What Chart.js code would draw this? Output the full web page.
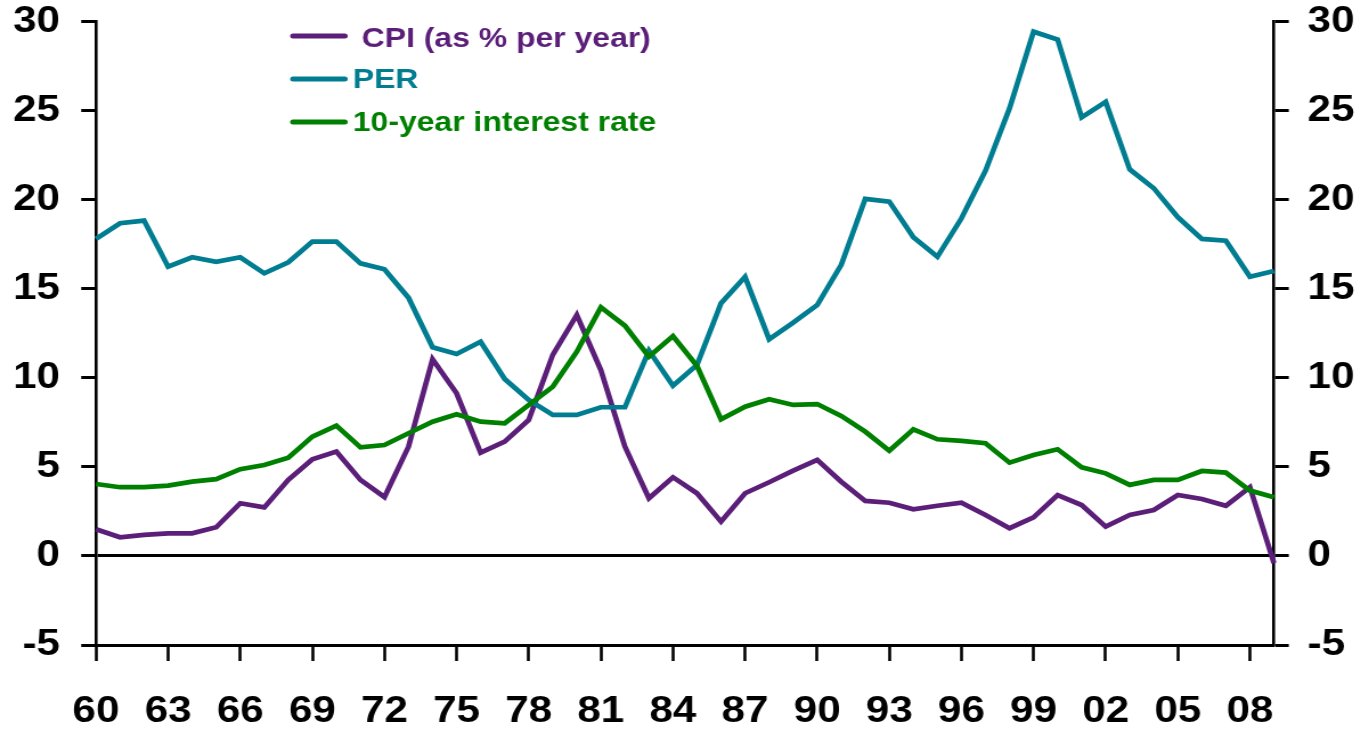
<!DOCTYPE html>
<html>
<head>
<meta charset="utf-8">
<title>CPI, PER and 10-year interest rate</title>
<script src="https://cdn.jsdelivr.net/npm/chart.js@4.4.1/dist/chart.umd.min.js"></script>
<style>
  html, body { margin: 0; padding: 0; background: #ffffff; overflow: hidden; }
  #wrap { width: 1361px; height: 732px; overflow: hidden; }
  /* the chart is drawn narrower and widened, giving the broad lettering */
  #chart { transform: scaleX(1.1399); transform-origin: 0 0; display: block; }
</style>
</head>
<body>
<div id="wrap"><canvas id="chart" width="1194" height="732"></canvas></div>
<script>
// Years 1960-2009, two-digit labels
const years = ['60','61','62','63','64','65','66','67','68','69',
               '70','71','72','73','74','75','76','77','78','79',
               '80','81','82','83','84','85','86','87','88','89',
               '90','91','92','93','94','95','96','97','98','99',
               '00','01','02','03','04','05','06','07','08','09'];

// Consumer price inflation, % per year
const cpi = [1.5, 1.05, 1.18, 1.27, 1.27, 1.61, 2.96, 2.73, 4.27, 5.43,
             5.86, 4.27, 3.3, 6.14, 11.04, 9.13, 5.8, 6.42, 7.64, 11.29,
             13.53, 10.44, 6.14, 3.24, 4.42, 3.52, 1.93, 3.52, 4.14, 4.79,
             5.39, 4.17, 3.09, 2.99, 2.62, 2.82, 2.99, 2.3, 1.56, 2.17,
             3.42, 2.86, 1.65, 2.3, 2.58, 3.42, 3.2, 2.82, 3.86, -0.4];

// Price/earnings ratio
const per = [17.8, 18.68, 18.83, 16.24, 16.77, 16.52, 16.77, 15.87, 16.49, 17.65,
             17.65, 16.43, 16.1, 14.5, 11.72, 11.34, 12.03, 9.94, 8.76, 7.92,
             7.92, 8.35, 8.35, 11.53, 9.56, 10.72, 14.19, 15.67, 12.17, 13.1,
             14.09, 16.35, 20.05, 19.9, 17.9, 16.8, 18.96, 21.63, 25.14, 29.44,
             29.0, 24.63, 25.5, 21.71, 20.65, 19.02, 17.8, 17.7, 15.68, 16.0];

// 10-year government bond yield, %
const rate10y = [4.04, 3.86, 3.86, 3.95, 4.17, 4.31, 4.87, 5.11, 5.52, 6.7,
                 7.32, 6.1, 6.23, 6.89, 7.54, 7.96, 7.54, 7.45, 8.48, 9.5,
                 11.47, 13.96, 12.93, 11.19, 12.35, 10.67, 7.67, 8.38, 8.8, 8.48,
                 8.53, 7.86, 6.98, 5.91, 7.11, 6.55, 6.46, 6.33, 5.24, 5.67,
                 5.99, 4.98, 4.64, 3.99, 4.27, 4.27, 4.77, 4.68, 3.67, 3.3];

const seriesNames = [' CPI (as % per year)', 'PER', '10-year interest rate'];
const seriesColors = ['#5B1F79', '#007D91', '#008000'];

const yMin = -5, yMax = 30, yStep = 5;
const xLabelEvery = 3;

const FONT = '"Liberation Sans", Arial, Helvetica, sans-serif';

// Legend drawn inside the plot, top-left, text coloured like its line
const insideLegend = {
  id: 'insideLegend',
  afterDatasetsDraw(chart) {
    const ctx = chart.ctx;
    const x0 = 257, x1 = 302.5, tx = 309.5;
    const rows = [36, 79, 122];
    const textShift = [3, 1, 1];
    ctx.save();
    ctx.font = 'bold 28px ' + FONT;
    ctx.textBaseline = 'middle';
    ctx.textAlign = 'left';
    chart.data.datasets.forEach((ds, i) => {
      const y = rows[i];
      ctx.strokeStyle = ds.borderColor;
      ctx.lineWidth = 5;
      ctx.lineCap = 'round';
      ctx.beginPath();
      ctx.moveTo(x0, y);
      ctx.lineTo(x1, y);
      ctx.stroke();
      ctx.fillStyle = ds.borderColor;
      ctx.fillText(ds.label, tx, y + textShift[i]);
    });
    ctx.restore();
  }
};

const lineDs = (label, data, color, order) => ({
  label, data,
  borderColor: color,
  backgroundColor: color,
  borderWidth: 4.7,
  borderJoinStyle: 'miter',
  pointRadius: 0,
  pointHoverRadius: 0,
  tension: 0,
  fill: false,
  order
});

// keep the plot top where the "30" label sits, without the extra label gap
const fitY = (width) => (s) => {
  s.width = width;
  s.paddingTop = 21.7;
};

new Chart(document.getElementById('chart'), {
  type: 'line',
  data: {
    labels: years,
    datasets: [
      lineDs(seriesNames[0], cpi, seriesColors[0], 2),
      lineDs(seriesNames[1], per, seriesColors[1], 1),
      lineDs(seriesNames[2], rate10y, seriesColors[2], 0)
    ]
  },
  options: {
    responsive: false,
    devicePixelRatio: 1,
    animation: false,
    layout: { padding: { top: 0, left: 0, right: 0, bottom: 0 } },
    plugins: {
      legend: { display: false },
      tooltip: { enabled: false }
    },
    scales: {
      x: {
        type: 'category',
        offset: false,
        border: { display: true, color: '#000', width: 3 },
        grid: {
          display: true,
          drawOnChartArea: false,
          drawTicks: true,
          tickLength: 16,
          tickWidth: 2.6,
          tickColor: (c) => (c.index % xLabelEvery === 0 ? '#000' : 'rgba(0,0,0,0)')
        },
        ticks: {
          autoSkip: false,
          maxRotation: 0,
          minRotation: 0,
          padding: 29,
          color: '#000',
          font: { family: FONT, size: 37, weight: 'bold' },
          callback: function (value, index) {
            return index % xLabelEvery === 0 ? this.getLabelForValue(value) : '';
          }
        },
        afterFit: (s) => { s.height = 87; }
      },
      y: {
        position: 'left',
        min: yMin, max: yMax,
        border: { display: true, color: '#000', width: 2.6 },
        grid: {
          display: true,
          drawOnChartArea: true,
          drawTicks: true,
          tickLength: 13,
          tickWidth: 3,
          tickColor: '#000',
          color: (c) => (c.tick && c.tick.value === 0 ? '#000' : 'rgba(0,0,0,0)'),
          lineWidth: (c) => (c.tick && c.tick.value === 0 ? 3 : 1)
        },
        ticks: {
          stepSize: yStep,
          padding: 18.5,
          color: '#000',
          font: { family: FONT, size: 37, weight: 'bold' }
        },
        afterFit: fitY(84.2)
      },
      y2: {
        position: 'right',
        min: yMin, max: yMax,
        border: { display: true, color: '#000', width: 2.6 },
        grid: {
          display: true,
          drawOnChartArea: false,
          drawTicks: true,
          tickLength: 13,
          tickWidth: 3,
          tickColor: '#000'
        },
        ticks: {
          stepSize: yStep,
          padding: 16.5,
          color: '#000',
          font: { family: FONT, size: 37, weight: 'bold' }
        },
        afterFit: fitY(76.4)
      }
    }
  },
  plugins: [insideLegend]
});
</script>
</body>
</html>
